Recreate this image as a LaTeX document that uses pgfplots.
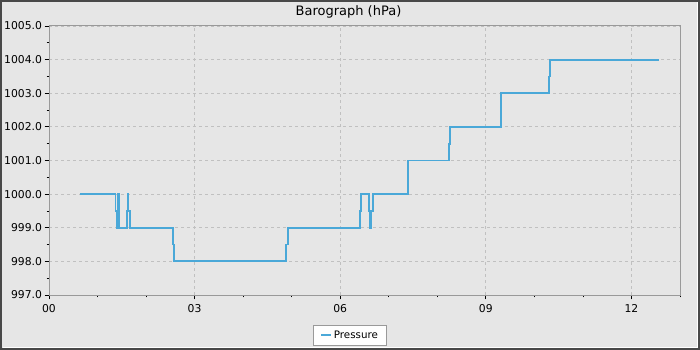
\documentclass[border=0pt]{standalone}
\usepackage{pgfplots}
\pgfplotsset{compat=1.18}
\usepackage{fontspec}
\setmainfont{DejaVu Sans}
\definecolor{bg}{HTML}{E6E6E6}
\definecolor{frame}{HTML}{484848}
\definecolor{axisgray}{HTML}{999999}
\definecolor{gridgray}{HTML}{C0C0C0}
\definecolor{lineblue}{HTML}{4AA8D8}
\begin{document}
\begin{tikzpicture}
\useasboundingbox (0bp,0bp) rectangle (700bp,350bp);
\fill[bg] (0bp,0bp) rectangle (700bp,350bp);
\draw[white, line width=1bp] (2.5bp,2.5bp) -- (697.5bp,2.5bp) -- (697.5bp,347.5bp);
\draw[frame, line width=2bp] (1bp,1bp) rectangle (699bp,349bp);
\node[font=\fontsize{13bp}{15bp}\selectfont] at (348.5bp,338bp) {Barograph (hPa)};
\begin{axis}[
  at={(49bp,55bp)}, anchor=south west,
  width=631bp, height=269bp, scale only axis,
  xmin=0, xmax=13, ymin=997, ymax=1005,
  xtick={0,3,6,9,12}, xticklabels={00,03,06,09,12},
  minor xtick={1,2,4,5,7,8,10,11,13},
  ytick={997,998,...,1005},
  minor ytick={997.5,998.5,...,1004.5},
  yticklabel style={/pgf/number format/fixed, /pgf/number format/fixed zerofill, /pgf/number format/precision=1, /pgf/number format/1000 sep={}, xshift=1bp},
  /pgf/number format/assume math mode=true,
  tick label style={font=\fontsize{10.8bp}{12bp}\selectfont, text=black},
  tick align=outside,
  major tick length=4.5bp, minor tick length=2.5bp,
  tick style={black, line width=0.8bp},
  axis line style={axisgray, line width=1bp},
  axis background/.style={fill=bg},
  xtick pos=bottom, ytick pos=left,
  grid=major,
  major grid style={gridgray, dash pattern=on 3bp off 3bp, line width=0.8bp},
  xticklabel style={yshift=-1bp},
  legend style={at={(0.477,0)}, anchor=north, yshift=-30bp, draw=axisgray, fill=white!97!bg,
    font=\fontsize{10.3bp}{12bp}\selectfont, inner xsep=6.5bp, inner ysep=3.5bp, line width=0.8bp},
  legend image code/.code={\draw[lineblue, line width=1.8bp] (0bp,0bp) -- (10bp,0bp);},
]
\addplot[lineblue, line width=1.8bp] coordinates {
(0.637,1000) (1.370,1000) (1.370,999.5) (1.397,999.5) (1.397,999) (1.424,999) (1.424,1000) (1.438,1000) (1.438,999)
(1.603,999) (1.603,999.5) (1.620,999.5) (1.620,1000) (1.637,1000) (1.637,999.5) (1.664,999.5) (1.664,999)
(2.554,999) (2.554,998.5) (2.575,998.5) (2.575,998)
(4.884,998) (4.884,998.5) (4.925,998.5) (4.925,999)
(6.410,999) (6.410,999.5) (6.430,999.5) (6.430,1000)
(6.595,1000) (6.595,999.5) (6.615,999.5) (6.615,999) (6.636,999) (6.636,999.5) (6.671,999.5) (6.671,1000)
(7.397,1000) (7.397,1001)
(8.239,1001) (8.239,1001.5) (8.260,1001.5) (8.260,1002)
(9.308,1002) (9.308,1003)
(10.294,1003) (10.294,1003.5) (10.314,1003.5) (10.314,1004)
(12.568,1004)
};
\addlegendentry{Pressure}
\end{axis}
\end{tikzpicture}
\end{document}
